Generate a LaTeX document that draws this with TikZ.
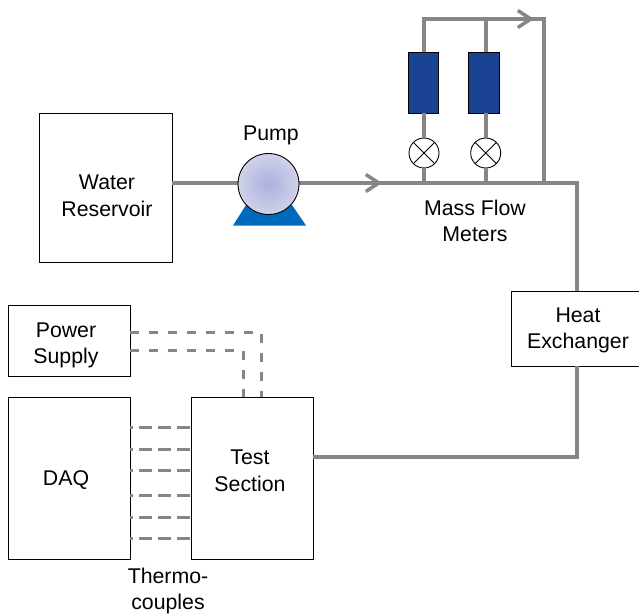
\documentclass[tikz,border=0pt]{standalone}
\usepackage{fontspec}
\setmainfont{Liberation Sans}
\usetikzlibrary{arrows.meta,shadings}
\definecolor{pipe}{RGB}{134,134,134}
\definecolor{meter}{RGB}{26,67,148}
\definecolor{basec}{RGB}{0,107,188}
\definecolor{pumpin}{RGB}{172,176,222}
\definecolor{pumpout}{RGB}{208,210,232}
\tikzset{
 x=1pt,y=-1pt,
 box/.style={draw=black,line width=0.9pt,fill=white,inner sep=0pt,outer sep=0pt,align=center},
 lab/.style={inner sep=0pt,align=center,font=\fontsize{21.3}{26.5}\selectfont},
 pipeline/.style={draw=pipe,line width=4pt},
 sigline/.style={draw=pipe,line width=3pt,dash pattern=on 9pt off 10pt},
 tcline/.style={draw=pipe,line width=3pt,dash pattern=on 13pt off 6pt,dash phase=10pt},
 flowtip/.style={-{Straight Barb[length=13pt,width=17pt,line width=3.5pt]}},
 meterbox/.style={draw=black,line width=0.8pt,fill=meter,minimum width=30.5pt,minimum height=61pt,inner sep=0pt,outer sep=0pt},
 valve/.style={circle,draw=black,line width=0.9pt,fill=white,minimum size=30pt,inner sep=0pt,outer sep=0pt},
}
\begin{document}
\begin{tikzpicture}
\useasboundingbox (0,0) rectangle (639,613);
% nodes
\node[box,minimum width=133pt,minimum height=149pt] (res) at (105.5,187.5) {};
\node[box,minimum width=122pt,minimum height=71pt] (psu) at (69,340.5) {};
\node[box,minimum width=122pt,minimum height=162pt] (daq) at (69,478) {};
\node[box,minimum width=122pt,minimum height=162pt] (test) at (252,478) {};
\node[box,minimum width=128pt,minimum height=75pt] (hx) at (575,328.5) {};
\node[lab] (resl) at (107,196) {Water\\Reservoir};
\node[lab] (psul) at (66,345.5) {Power\\Supply};
\node[lab] (daql) at (66,480) {DAQ};
\node[lab] (testl) at (250,471) {Test\\Section};
\node[lab] (hxl) at (578,330.5) {Heat\\Exchanger};
\node[meterbox] (m1) at (423.2,82.5) {};
\node[meterbox] (m2) at (484,82.5) {};
\node[valve] (v1) at (424,153) {};
\node[valve] (v2) at (485.7,153) {};
\coordinate (pumpc) at (268.5,184);
\coordinate (corner) at (577,183);
\coordinate (j1) at (v1|-corner);
\coordinate (j2) at (v2|-corner);
\coordinate (j3) at (544,183);
\coordinate (tr) at (544,19);
\coordinate (tl) at (v1|-tr);
\coordinate (t2) at (v2|-tr);
\coordinate (hxt) at (577,291);
\coordinate (hxb) at (577,366);
\coordinate (hb) at (577,457);
\coordinate (a1s) at (350,183);
\coordinate (a1e) at (382,183);
\coordinate (a2s) at (500,19);
\coordinate (a2e) at (534,19);
% pipes
\begin{scope}[line join=miter]
\draw[pipeline] (res.east|-corner) -- (corner) -- (hxt);
\draw[pipeline] (hxb) -- (hb) -- (test.east|-hb);
\draw[pipeline] (j3) -- (tr) -- (tl) -- (tl|-m1.north);
\draw[pipeline] (t2) -- (t2|-m2.north);
\draw[pipeline] (v1|-m1.south) -- (v1.north);
\draw[pipeline] (v2|-m2.south) -- (v2.north);
\draw[pipeline] (v1.south) -- (j1);
\draw[pipeline] (v2.south) -- (j2);
\end{scope}
\draw[pipe,line width=3.5pt,flowtip] (a1s) -- (a1e);
\draw[pipe,line width=3.5pt,flowtip] (a2s) -- (a2e);
% valves crosses
\foreach \v in {v1,v2}{
 \draw[black,line width=0.9pt] (\v.45) -- (\v.225) (\v.135) -- (\v.315);
}
% pump
\fill[basec] (246,205) -- (233,225.5) -- (306,225.5) -- (292,205) -- cycle;
\node[circle,draw=black,line width=0.9pt,minimum size=61pt,inner sep=0pt,inner color=pumpin,outer color=pumpout] (pump) at (pumpc) {};
% signal lines
\coordinate (a1) at (261,332);
\coordinate (a2) at (243,350);
\draw[sigline] (psu.east|-a1) -- (a1) -- (a1|-test.north);
\draw[sigline] (psu.east|-a2) -- (a2) -- (a2|-test.north);
\foreach \y in {427,449,470,495,517,538}{
 \draw[tcline] (daq.east|-0,\y) -- (test.west|-0,\y);
}
% labels
\node[lab] (lp) at (271,135) {Pump};
\node[lab] (lm) at (475,221) {Mass Flow\\Meters};
\node[lab] (lt) at (168,591) {Thermo-\\couples};
\end{tikzpicture}
\end{document}
